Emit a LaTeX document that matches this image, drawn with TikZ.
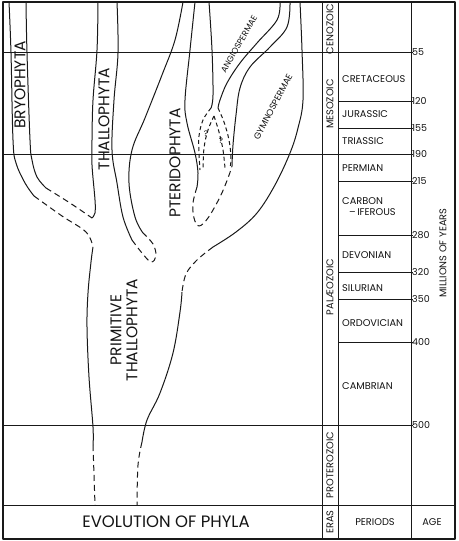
\documentclass[tikz,border=0pt]{standalone}
\usepackage{fontspec}
\setmainfont{Poppins}
\usepackage{xcolor}
\definecolor{inkLine}{RGB}{25, 25, 25}
\definecolor{inkText}{RGB}{20, 20, 20}

\begin{document}
\begin{tikzpicture}[x=1pt, y=-1pt, line join=round]

  % Page (pixel grid, y downwards)
  \useasboundingbox[fill=white] (0,0) rectangle (458,541);

  \tikzset{
    stem/.style={draw=inkLine, line width=1pt},
    gapline/.style={stem, dash pattern=on 6pt off 4pt},
    rule/.style={draw=inkLine, line width=0.6pt},
    phylum/.style={font=\fontsize{15.5}{17}\selectfont, text=inkText,
      rotate=90, align=center, inner sep=0pt},
    era/.style={font=\fontsize{9.8}{11}\selectfont, text=inkText,
      rotate=90, inner sep=0pt},
    period/.style={font=\fontsize{9.8}{11}\selectfont, text=inkText,
      anchor=west, align=left, inner sep=0pt},
    age/.style={font=\fontsize{9.5}{10}\selectfont, text=inkText,
      anchor=west, inner sep=0pt}
  }

  % Column edges: eras, periods, ages
  \def\xE{322}
  \def\xP{338}
  \def\xA{411}

  % --- Frame and columns ---
  \draw[rule, line width=1.8pt] (3,2) rectangle (455,539);
  \draw[rule, line width=1pt] (3,505) -- (455,505);
  \foreach \x in {\xE, \xP, \xA}
    \draw[rule, line width=0.9pt] (\x,2) -- (\x,539);

  % Era boundaries run across the whole chart
  \foreach \y in {52, 154, 425}
    \draw[rule] (3,\y) -- (413,\y);

  % Period boundaries
  \foreach \y in {101, 128, 181, 235, 272, 299, 342}
    \draw[rule] (\xP,\y) -- (413,\y);

  % --- Bryophyta ---
  \draw[stem] plot[smooth, tension=0.6] coordinates
    {(9,2) (11,53) (13,140) (16,163) (25,183) (34,196)};
  \draw[gapline] plot[smooth, tension=0.6] coordinates
    {(34,196) (62,216) (86,232) (93,247)};
  \draw[stem] plot[smooth, tension=0.6] coordinates
    {(26,2) (27,53) (30,140) (32,160) (37,177) (46,188)};
  \draw[gapline] plot[smooth, tension=0.6] coordinates
    {(46,188) (70,203) (92,218)};

  % --- Thallophyta ---
  \draw[stem] plot[smooth, tension=0.6] coordinates
    {(98,2) (97,50) (93,100) (92,140) (92,165) (95,200) (95,213) (92,218)};
  \draw[stem] plot[smooth, tension=0.6] coordinates
    {(117,2) (118,53) (114,100) (112,150) (117,183) (123,217) (132,240)};

  % --- Pteridophyta ---
  \draw[stem] plot[smooth, tension=0.6] coordinates
    {(183,2) (175,40) (162,75) (145,118) (132,150) (129,183) (135,217) (143,233)};
  % split below thallophyta / pteridophyta
  \draw[gapline] plot[smooth, tension=0.6] coordinates
    {(132,240) (142,253) (151,262) (156,256) (153,244) (143,233)};
  \draw[stem] plot[smooth, tension=0.6] coordinates
    {(195,2) (190,50) (185,100) (187,123) (195,153) (198,173) (197,187)};
  % split below pteridophyta / gymnospermae
  \draw[gapline] plot[smooth, tension=0.6] coordinates
    {(197,187) (193,203) (194,218) (199,226) (208,218) (220,197) (228,178) (232,166)};

  % --- Angiospermae ---
  \draw[stem] plot[smooth, tension=0.6] coordinates
    {(209,2) (212,50) (213,95) (211,108)};
  \draw[stem] plot[smooth, tension=0.6] coordinates
    {(280,2) (277,20) (257,43) (240,63) (227,83) (220,100) (218,108)};
  % uncertain origins
  \draw[gapline, dash pattern=on 4pt off 3pt] plot[smooth, tension=0.6] coordinates
    {(211,108) (203,120) (199,136) (199,153) (200,170)};
  \draw[gapline, dash pattern=on 4pt off 3pt] plot[smooth, tension=0.6] coordinates
    {(214,116) (208,130) (204,148) (203,170)};
  \draw[gapline, dash pattern=on 4pt off 3pt] plot[smooth, tension=0.6] coordinates
    {(218,108) (224,122) (229,140) (231,158) (230,168)};
  \draw[gapline, dash pattern=on 4pt off 3pt] plot[smooth, tension=0.6] coordinates
    {(214,116) (219,132) (223,150) (225,168)};
  \node[font=\fontsize{8}{9}\selectfont, text=inkText, inner sep=0pt] (qPter) at (206,134) {?};
  \node[font=\fontsize{8}{9}\selectfont, text=inkText, inner sep=0pt] (qGymn) at (221,141) {?};

  % --- Gymnospermae ---
  \draw[stem] plot[smooth, tension=0.6] coordinates
    {(290,2) (287,27) (270,47) (250,67) (240,88) (236,115) (233,145) (232,166)};
  \draw[stem] plot[smooth, tension=0.6] coordinates
    {(300,2) (302,50) (303,100) (298,128) (290,153) (275,185) (257,213) (236,232) (213,247)};
  \draw[gapline] plot[smooth, tension=0.6] coordinates
    {(213,247) (197,260) (186,274) (182,292)};

  % --- Primitive Thallophyta (main trunk) ---
  \draw[stem] plot[smooth, tension=0.6] coordinates
    {(93,247) (91,262) (88,293) (87,327) (89,377) (93,427) (93,445)};
  \draw[gapline] (93,445) -- (95,505);
  \draw[stem] plot[smooth, tension=0.6] coordinates
    {(182,292) (180,312) (173,353) (160,393) (147,420) (142,442)};
  \draw[gapline] plot[smooth, tension=0.6] coordinates
    {(142,442) (138,465) (137,505)};

  % --- Phylum labels ---
  \node[phylum] (bryo) at (20,85) {BRYOPHYTA};
  \node[phylum] (thallo) at (104,119) {THALLOPHYTA};
  \node[phylum] (pterido) at (175,163) {PTERIDOPHYTA};
  \node[phylum, text width=120pt] (primitive) at (124,330) {PRIMITIVE\\[-1pt]THALLOPHYTA};
  \node[font=\fontsize{8.5}{10}\selectfont, text=inkText, rotate=60, inner sep=0pt]
    (angio) at (239,44) {ANGIOSPERMAE};
  \node[font=\fontsize{9}{10}\selectfont, text=inkText, rotate=62, inner sep=0pt]
    (gymno) at (273,107) {GYMNOSPERMAE};

  % --- Eras ---
  \node[era] (cenozoic) at (330,29) {CENOZOIC};
  \node[era] (mesozoic) at (330,104) {MESOZOIC};
  \node[era] (palaeozoic) at (330,287) {PALÆOZOIC};
  \node[era] (proterozoic) at (330,465) {PROTEROZOIC};

  % --- Periods ---
  \node[period] (cretaceous) at (342,79) {CRETACEOUS};
  \node[period] (jurassic) at (342,114) {JURASSIC};
  \node[period] (triassic) at (342,141) {TRIASSIC};
  \node[period] (permian) at (342,168) {PERMIAN};
  \node[period] (carbon) at (342,207) {CARBON\\\hspace{0.7em}--\,IFEROUS};
  \node[period] (devonian) at (342,255) {DEVONIAN};
  \node[period] (silurian) at (342,288) {SILURIAN};
  \node[period] (ordovician) at (342,323) {ORDOVICIAN};
  \node[period] (cambrian) at (342,386) {CAMBRIAN};

  % --- Ages (millions of years) ---
  \foreach \y/\a in {52/55, 101/120, 128/155, 154/190, 181/215,
                     235/280, 272/320, 299/350, 342/400, 425/500}
    \node[age] (age\a) at (412,\y) {\a};
  \node[era] (millions) at (443,253) {MILLIONS OF YEARS};

  % --- Bottom band ---
  \node[font=\fontsize{16.5}{18}\selectfont, text=inkText, inner sep=0pt]
    (title) at (166,522) {EVOLUTION OF PHYLA};
  \node[era] (eras) at (330,522) {ERAS};
  \node[font=\fontsize{9.8}{11}\selectfont, text=inkText, inner sep=0pt]
    (periods) at (375,522) {PERIODS};
  \node[font=\fontsize{9.8}{11}\selectfont, text=inkText, inner sep=0pt]
    (agehead) at (432,522) {AGE};

\end{tikzpicture}
\end{document}
